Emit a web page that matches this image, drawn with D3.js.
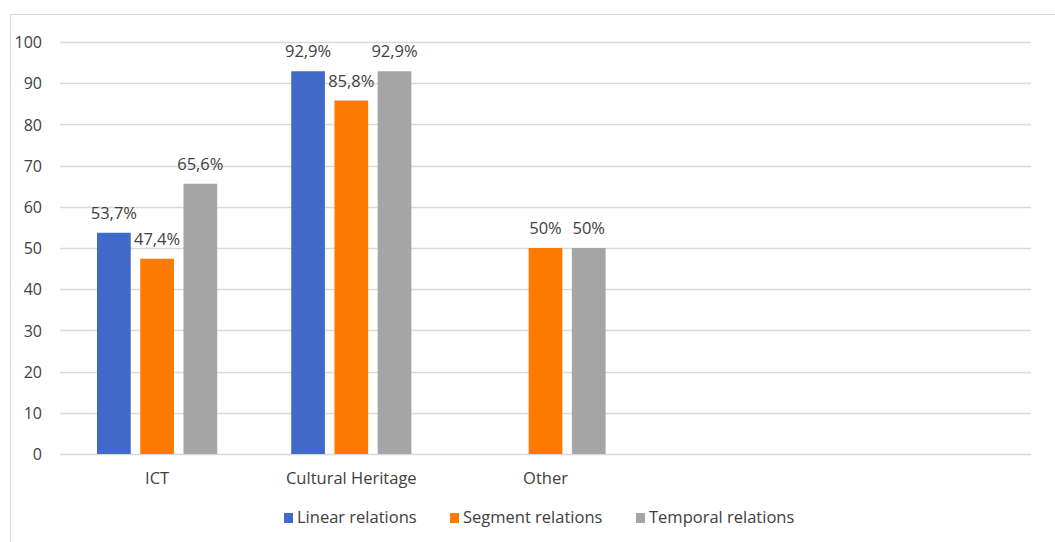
<!DOCTYPE html>
<html><head><meta charset="utf-8">
<script src="https://cdn.jsdelivr.net/npm/d3@7"></script>
<style>body{margin:0;background:#fff}svg{display:block}text{font-family:"Open Sans",sans-serif;fill:#404040}</style>
</head><body><svg id="c" width="1055" height="542"></svg>
<script>
const categories = ["ICT", "Cultural Heritage", "Other", "", " "];
const seriesNames = ["Linear relations", "Segment relations", "Temporal relations"];
const linearValues = [53.7, 92.9, null, null, null];
const segmentValues = [47.4, 85.8, 50, null, null];
const temporalValues = [65.6, 92.9, 50, null, null];
const linearLabels = ["53,7%", "92,9%", "", "", ""];
const segmentLabels = ["47,4%", "85,8%", "50%", "", ""];
const temporalLabels = ["65,6%", "92,9%", "50%", "", ""];
const yTicks = [0, 10, 20, 30, 40, 50, 60, 70, 80, 90, 100];
const colors = ["#4169C9", "#FF7A00", "#A5A5A5"];

const series = [
  {name: seriesNames[0], values: linearValues, labels: linearLabels},
  {name: seriesNames[1], values: segmentValues, labels: segmentLabels},
  {name: seriesNames[2], values: temporalValues, labels: temporalLabels}
];

const svg = d3.select("#c");
svg.append("rect").attr("x", 10.5).attr("y", 14.5).attr("width", 1100).attr("height", 600)
  .attr("fill", "none").attr("stroke", "#d9d9d9");

const pLeft = 60, pRight = 1031, pTop = 42, pBottom = 454;
const x0 = d3.scaleBand().domain(categories).range([pLeft, pRight]).paddingInner(0).paddingOuter(0);
const x1 = d3.scaleBand().domain(seriesNames).range([37, x0.bandwidth() - 37]).paddingInner(0.22).paddingOuter(0);
const y = d3.scaleLinear().domain([0, 100]).range([pBottom, pTop]);

svg.append("g").selectAll("line").data(yTicks).join("line")
  .attr("x1", pLeft).attr("x2", pRight)
  .attr("y1", d => Math.round(y(d)) + 0.5).attr("y2", d => Math.round(y(d)) + 0.5)
  .attr("stroke", "#d9d9d9").attr("stroke-width", 1.3);

const yAxis = d3.axisLeft(y).tickValues(yTicks).tickSize(0).tickPadding(0);
const ya = svg.append("g").attr("transform", "translate(42,0)").call(yAxis);
ya.select(".domain").remove();
ya.selectAll("text").style("font-size", "16px").style("font-family", "Open Sans, sans-serif").attr("fill", "#404040").attr("dy", "0.35em");

const xAxis = d3.axisBottom(x0).tickSize(0).tickPadding(0);
const xa = svg.append("g").attr("transform", `translate(0,${pBottom + 18})`).call(xAxis);
xa.select(".domain").remove();
xa.selectAll("text").style("font-size", "16.5px").style("font-family", "Open Sans, sans-serif").attr("fill", "#404040");

series.forEach((s, si) => {
  const items = categories.map((c, ci) => ({c, v: s.values[ci], l: s.labels[ci]})).filter(d => d.v != null);
  const g = svg.append("g");
  g.selectAll("rect").data(items).join("rect")
    .attr("x", d => x0(d.c) + x1(s.name))
    .attr("width", x1.bandwidth())
    .attr("y", d => y(d.v))
    .attr("height", d => y(0) - y(d.v))
    .attr("fill", colors[si]);
  g.selectAll("text").data(items).join("text")
    .attr("x", d => x0(d.c) + x1(s.name) + x1.bandwidth() / 2)
    .attr("y", d => y(d.v) - 14)
    .attr("text-anchor", "middle")
    .style("font-size", "16.5px")
    .text(d => d.l);
});

const legendX = [284, 450, 636];
const lg = svg.append("g").selectAll("g").data(seriesNames).join("g")
  .attr("transform", (d, i) => `translate(${legendX[i]},513)`);
lg.append("rect").attr("width", 9).attr("height", 10).attr("fill", (d, i) => colors[i]);
lg.append("text").attr("x", 13).attr("y", 10).style("font-size", "16.5px").text(d => d);
</script></body></html>
